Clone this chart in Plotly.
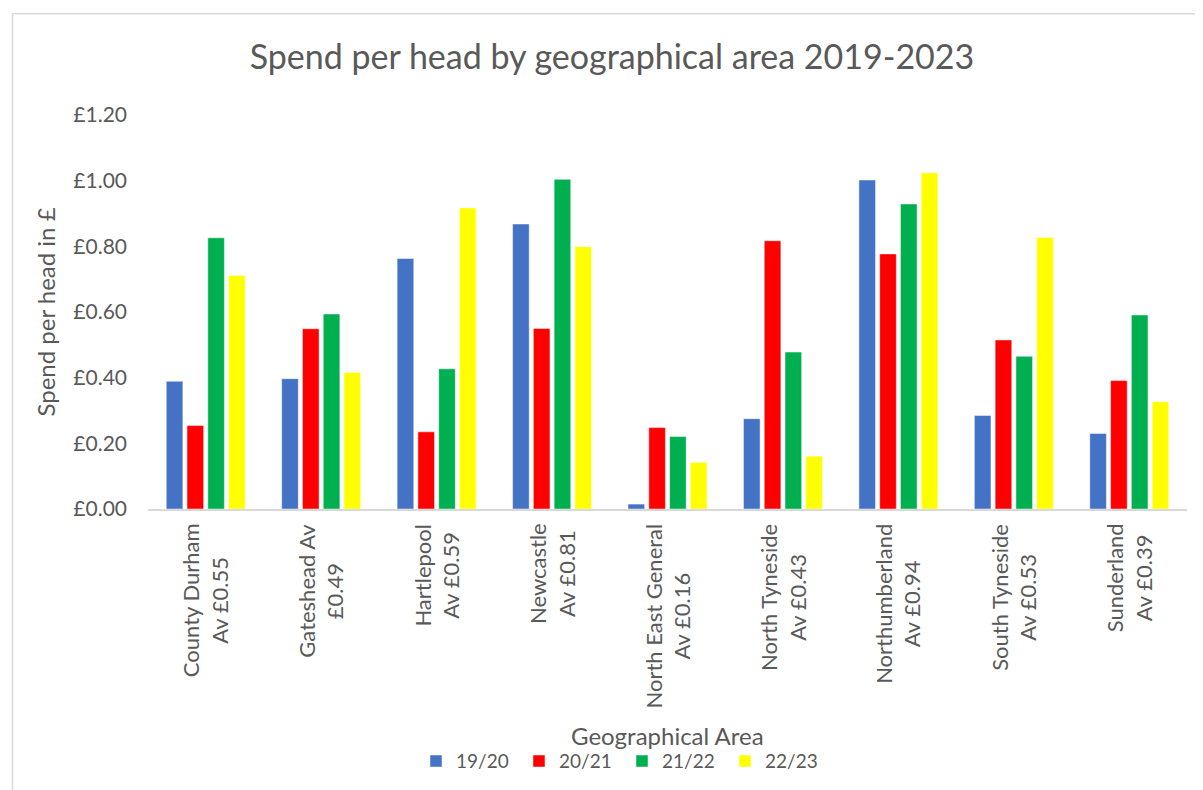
import plotly.graph_objects as go

areas = ["County Durham", "Gateshead Av", "Hartlepool", "Newcastle", "North East General",
         "North Tyneside", "Northumberland", "South Tyneside", "Sunderland"]
area_labels = ["County Durham<br>Av £0.55", "Gateshead Av<br>£0.49", "Hartlepool<br>Av £0.59",
               "Newcastle<br>Av £0.81", "North East General<br>Av £0.16", "North Tyneside<br>Av £0.43",
               "Northumberland<br>Av £0.94", "South Tyneside<br>Av £0.53", "Sunderland<br>Av £0.39"]

s1920 = [0.389, 0.397, 0.763, 0.868, 0.015, 0.275, 1.002, 0.285, 0.230]
s2021 = [0.254, 0.549, 0.235, 0.550, 0.248, 0.817, 0.777, 0.515, 0.391]
s2122 = [0.826, 0.594, 0.427, 1.004, 0.221, 0.478, 0.929, 0.465, 0.591]
s2223 = [0.711, 0.416, 0.917, 0.799, 0.142, 0.161, 1.024, 0.827, 0.327]

series_names = ["19/20", "20/21", "21/22", "22/23"]
series_vals = [s1920, s2021, s2122, s2223]
colors = ["#4472C4", "#FF0000", "#00B050", "#FFFF00"]

tick_vals = [0, 0.2, 0.4, 0.6, 0.8, 1.0, 1.2]
tick_text = ["£0.00", "£0.20", "£0.40", "£0.60", "£0.80", "£1.00", "£1.20"]

FONT = "Lato"
GREY = "#595959"

# page body adds an 8px offset; work in reference pixel coordinates
OFF = 8
W, H = 1203, 790
L = 148 - OFF
R = W - (1187 - OFF)
T = 115 - OFF
BASE = 509.5 - OFF
B = H - BASE
pw, ph = W - L - R, BASE - T


def px_x(p):
    return (p - OFF - L) / pw


def px_y(p):
    return (BASE - (p - OFF)) / ph


fig = go.Figure()
for name, vals, col in zip(series_names, series_vals, colors):
    fig.add_trace(go.Bar(x=areas, y=vals, name=name, marker_color=col,
                         marker_line=dict(color="rgba(255,255,255,0.6)", width=0.8)))

for a, lab in zip(areas, area_labels):
    fig.add_annotation(x=a, xref="x", y=px_y(522), yref="paper", text=lab, textangle=-90,
                       xanchor="center", yanchor="top", align="center", showarrow=False,
                       font=dict(family=FONT, size=22, color=GREY))

fig.add_annotation(x=px_x(667), xref="paper", y=px_y(736), yref="paper", text="Geographical Area",
                   xanchor="center", yanchor="middle", showarrow=False,
                   font=dict(family=FONT, size=24, color=GREY))

fig.add_shape(type="line", xref="paper", yref="paper", x0=px_x(12.5), x1=px_x(1215),
              y0=px_y(13.5), y1=px_y(13.5), line=dict(color="#d9d9d9", width=1.5))
fig.add_shape(type="line", xref="paper", yref="paper", x0=px_x(12.5), x1=px_x(12.5),
              y0=px_y(13.5), y1=px_y(805), line=dict(color="#d9d9d9", width=1.5))

fig.update_layout(
    width=W, height=H,
    margin=dict(l=L, r=R, t=T, b=B, autoexpand=False),
    paper_bgcolor="white", plot_bgcolor="white",
    barmode="group", bargap=0.28, bargroupgap=0.2,
    title=dict(text="Spend per head by geographical area 2019-2023", x=px_x(612), xref="paper",
               xanchor="center", y=1 - (57 - OFF) / H, yanchor="middle",
               font=dict(family=FONT, size=34, color=GREY)),
    font=dict(family=FONT, color=GREY),
    showlegend=True,
    legend=dict(orientation="h", x=px_x(416), xanchor="left", y=px_y(762), yanchor="middle",
                font=dict(family=FONT, size=19, color=GREY), entrywidth=58, entrywidthmode="pixels",
                bgcolor="rgba(0,0,0,0)"),
    xaxis=dict(showticklabels=False, showline=True, linecolor="#d9d9d9", linewidth=1.5,
               ticks="", showgrid=False, zeroline=False, fixedrange=True),
    yaxis=dict(range=[0, 1.2], tickvals=tick_vals, ticktext=tick_text, showgrid=False,
               zeroline=False, showline=False, ticks="", ticklabelstandoff=20,
               tickfont=dict(family=FONT, size=21, color=GREY),
               title=dict(text="Spend per head in £", standoff=10,
                          font=dict(family=FONT, size=24, color=GREY))),
)

fig.write_html("out.html")
